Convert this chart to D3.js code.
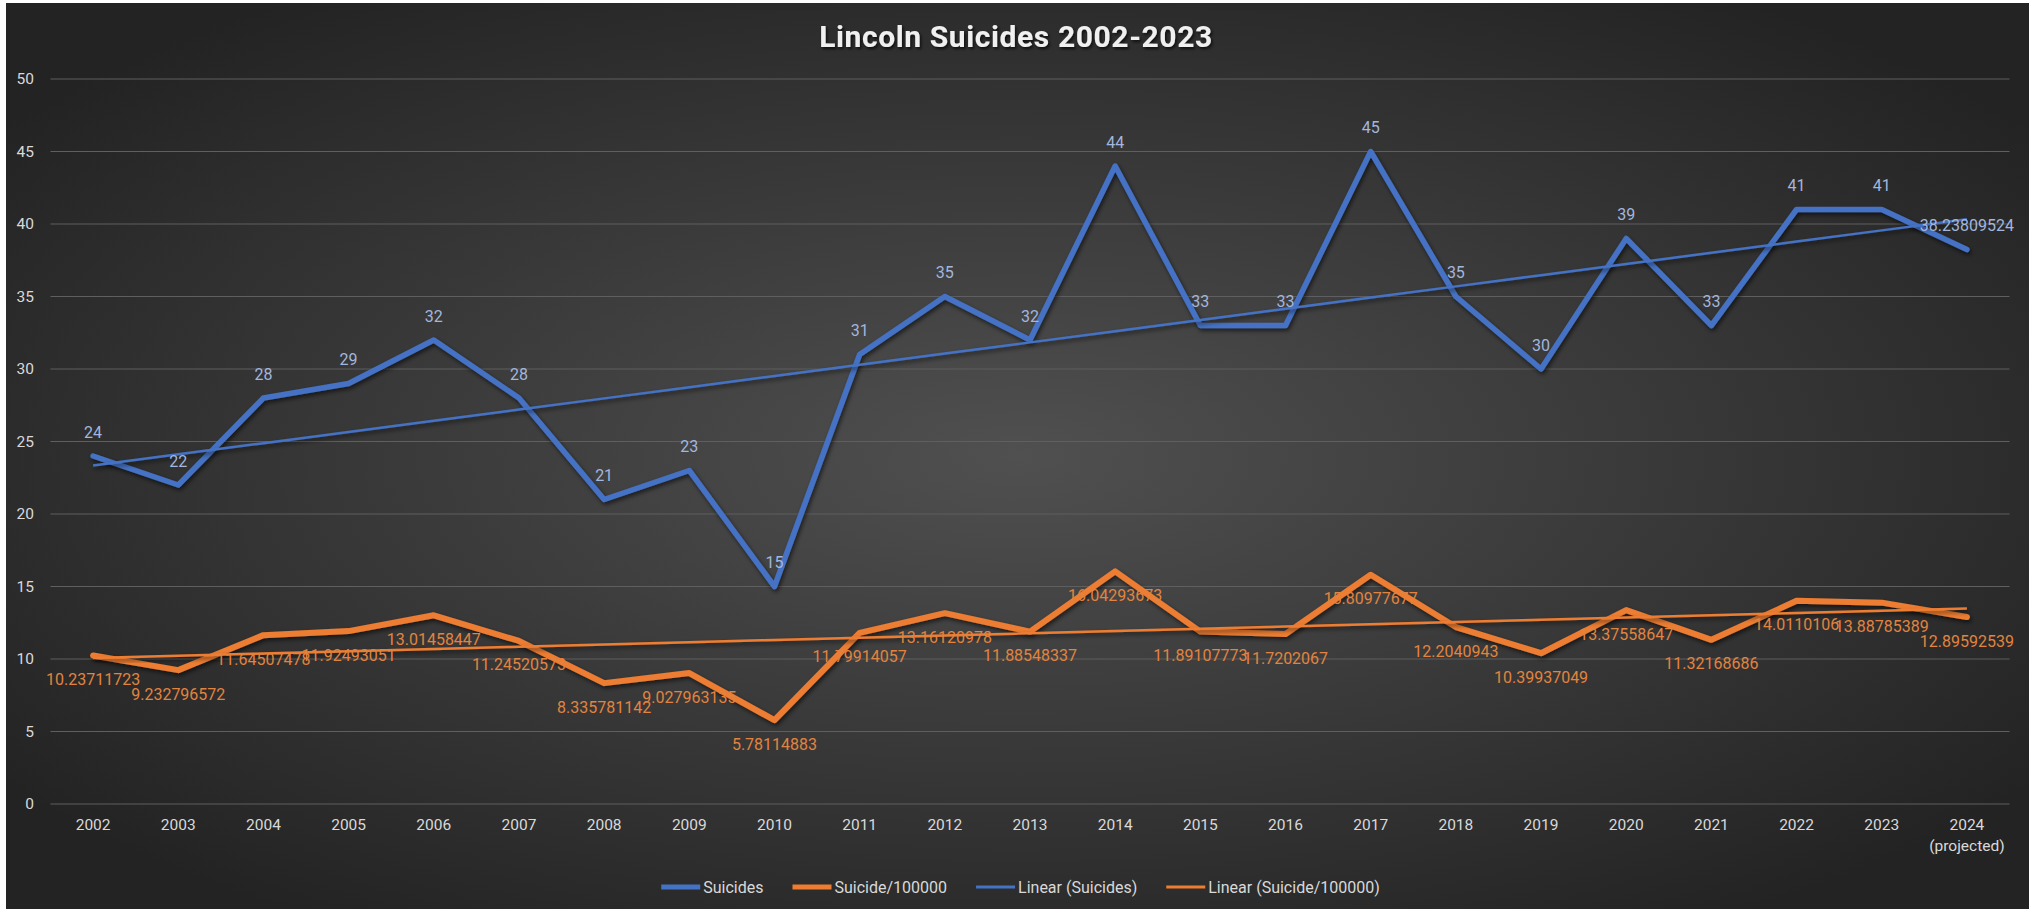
<!DOCTYPE html>
<html>
<head>
<meta charset="utf-8">
<script src="https://cdn.jsdelivr.net/npm/d3@7"></script>
<style>
  html, body { margin: 0; padding: 0; background: #ffffff; }
  svg { display: block; }
  text { font-family: Roboto, "Noto Sans", sans-serif; }
</style>
</head>
<body>
<svg id="chart" width="2031" height="911"></svg>
<script>
// ---------------- DATA ----------------
const title = "Lincoln Suicides 2002-2023";
const categories = ["2002","2003","2004","2005","2006","2007","2008","2009","2010","2011","2012",
  "2013","2014","2015","2016","2017","2018","2019","2020","2021","2022","2023","2024\n(projected)"];
const suicides = [24,22,28,29,32,28,21,23,15,31,35,32,44,33,33,45,35,30,39,33,41,41,38.23809524];
const suicideRate = [10.23711723,9.232796572,11.64507478,11.92493051,13.01458447,11.24520573,
  8.335781142,9.027963135,5.78114883,11.79914057,13.16120978,11.88548337,16.04293673,
  11.89107773,11.7202067,15.80977677,12.2040943,10.39937049,13.37558647,11.32168686,
  14.0110106,13.88785389,12.89592539];
const yTicks = [0,5,10,15,20,25,30,35,40,45,50];
const legendLabels = ["Suicides","Suicide/100000","Linear (Suicides)","Linear (Suicide/100000)"];

// ---------------- SETUP ----------------
const W = 2031, H = 911;
const svg = d3.select("#chart");
const defs = svg.append("defs");

const bg = defs.append("radialGradient").attr("id","bg")
  .attr("cx","50%").attr("cy","50%").attr("r","62%");
bg.append("stop").attr("offset","0%").attr("stop-color","#505050");
bg.append("stop").attr("offset","100%").attr("stop-color","#232323");

const sh = defs.append("filter").attr("id","shadow")
  .attr("x","-10%").attr("y","-10%").attr("width","120%").attr("height","120%");
sh.append("feDropShadow").attr("dx",1.5).attr("dy",2.5).attr("stdDeviation",2)
  .attr("flood-color","#000").attr("flood-opacity",0.6);
const tsh = defs.append("filter").attr("id","tshadow")
  .attr("x","-10%").attr("y","-30%").attr("width","120%").attr("height","160%");
tsh.append("feDropShadow").attr("dx",1.5).attr("dy",2).attr("stdDeviation",1.5)
  .attr("flood-color","#000").attr("flood-opacity",0.7);

svg.append("rect").attr("x",6).attr("y",3).attr("width",W-8).attr("height",H-5)
  .attr("fill","url(#bg)");

const x = d3.scaleBand().domain(categories).range([50.5, 2009.5]).paddingInner(0).paddingOuter(0);
const y = d3.scaleLinear().domain([0,50]).range([804,79]);
const cx = d => x(d) + x.bandwidth()/2;

// gridlines
svg.append("g").selectAll("line").data(yTicks).join("line")
  .attr("x1", x.range()[0]).attr("x2", x.range()[1])
  .attr("y1", d => y(d)).attr("y2", d => y(d))
  .attr("stroke", "#5f5f5f").attr("stroke-width", 1.2);

// y axis labels
const yAxis = svg.append("g").attr("transform","translate(34,0)")
  .call(d3.axisLeft(y).tickValues(yTicks).tickSize(0).tickPadding(0));
yAxis.select(".domain").remove();
yAxis.selectAll("text").attr("fill","#d9d9d9").style("font-size","15.5px")
  .style("font-family","Roboto, sans-serif");

// x axis labels
const xAxis = svg.append("g").attr("transform","translate(0,804)")
  .call(d3.axisBottom(x).tickSize(0).tickPadding(0).tickFormat(""));
xAxis.select(".domain").remove();
xAxis.selectAll(".tick").each(function(d){
  const lines = d.split("\n");
  const t = d3.select(this).append("text").attr("fill","#d9d9d9")
    .style("font-size","15.5px").attr("text-anchor","middle");
  lines.forEach((ln,i) => t.append("tspan").attr("x",0).attr("y", 26 + i*21).text(ln));
});

// trendlines via least squares
function linFit(vals){
  const n = vals.length;
  const xs = d3.range(1,n+1);
  const mx = d3.mean(xs), my = d3.mean(vals);
  const sxy = d3.sum(xs, (v,i)=> (v-mx)*(vals[i]-my));
  const sxx = d3.sum(xs, v => (v-mx)*(v-mx));
  const b = sxy/sxx, a = my - b*mx;
  return xs.map(v => a + b*v);
}
const rows = categories.map((c,i)=>({c, s: suicides[i], r: suicideRate[i]}));
const trendS = linFit(suicides), trendR = linFit(suicideRate);

const line = d3.line().x(d => cx(d.c)).y(d => y(d.v));
const blue = "#4472C4", orange = "#ED7D31";

const plot = svg.append("g");
plot.append("path").datum(rows.map(d=>({c:d.c, v:d.s})))
  .attr("d", line).attr("fill","none").attr("stroke",blue).attr("stroke-width",5.5)
  .attr("stroke-linejoin","round").attr("stroke-linecap","round").attr("filter","url(#shadow)");
plot.append("path").datum(rows.map(d=>({c:d.c, v:d.r})))
  .attr("d", line).attr("fill","none").attr("stroke",orange).attr("stroke-width",6)
  .attr("stroke-linejoin","round").attr("stroke-linecap","round").attr("filter","url(#shadow)");
plot.append("path").datum(categories.map((c,i)=>({c, v: trendS[i]})))
  .attr("d", line).attr("fill","none").attr("stroke",blue).attr("stroke-width",2.5)
  .attr("filter","url(#shadow)");
plot.append("path").datum(categories.map((c,i)=>({c, v: trendR[i]})))
  .attr("d", line).attr("fill","none").attr("stroke",orange).attr("stroke-width",2.5)
  .attr("filter","url(#shadow)");

// data labels
svg.append("g").selectAll("text").data(rows).join("text")
  .attr("x", d => cx(d.c)).attr("y", d => y(d.s) - 24)
  .attr("text-anchor","middle").attr("dominant-baseline","central")
  .attr("fill","#a3b6de").style("font-size","16px")
  .text(d => String(d.s));
svg.append("g").selectAll("text").data(rows).join("text")
  .attr("x", d => cx(d.c)).attr("y", d => y(d.r) + 24)
  .attr("text-anchor","middle").attr("dominant-baseline","central")
  .attr("fill","#e2843f").style("font-size","16px")
  .text(d => String(d.r));

// title
svg.append("text").attr("x", 1016).attr("y", 47).attr("text-anchor","middle")
  .attr("fill","#f0f0f0").style("font-size","30px").style("font-weight","700")
  .style("letter-spacing","0.6px").attr("filter","url(#tshadow)").text(title);

// legend
const legStyles = [
  {color: blue, w: 5}, {color: orange, w: 5}, {color: blue, w: 3}, {color: orange, w: 3}
];
const leg = svg.append("g");
let cur = 0;
const items = legendLabels.map((lab,i) => {
  const g = leg.append("g");
  g.append("line").attr("x1",0).attr("x2",39).attr("y1",0).attr("y2",0)
    .attr("stroke", legStyles[i].color).attr("stroke-width", legStyles[i].w);
  const t = g.append("text").attr("x",42).attr("y",0).attr("dominant-baseline","central")
    .attr("fill","#d9d9d9").style("font-size","16px").text(lab);
  const wdt = 42 + t.node().getComputedTextLength();
  g.attr("transform", `translate(${cur},0)`);
  cur += wdt + 29;
  return g;
});
const total = cur - 29;
leg.attr("transform", `translate(${1020.5 - total/2}, 887)`);
</script>
</body>
</html>
